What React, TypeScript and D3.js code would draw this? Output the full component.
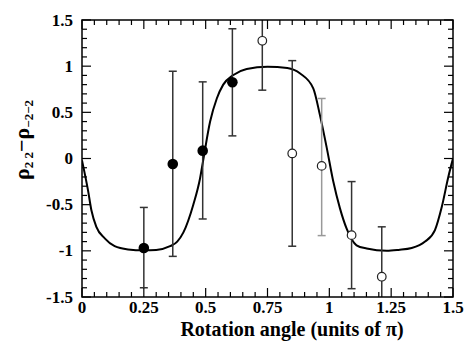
import * as d3 from 'd3';
import { useEffect, useRef } from 'react';

// filled points (measured)
const angleFilled = [0.25, 0.367, 0.488, 0.608];
const valueFilled = [-0.97, -0.06, 0.085, 0.825];
const lowFilled = [-1.4, -1.06, -0.655, 0.245];
const highFilled = [-0.53, 0.945, 0.83, 1.405];

// open points
const angleOpen = [0.729, 0.85, 0.969, 1.09, 1.212];
const valueOpen = [1.275, 0.055, -0.08, -0.83, -1.28];
const lowOpen = [0.74, -0.95, -0.835, -1.41, -1.75];
const highOpen = [1.75, 1.06, 0.65, -0.25, -0.74];
const greyBar = [false, false, true, false, false];

// calculated curve
const curveAngle = [0, 0.024, 0.038, 0.058, 0.092, 0.132, 0.186, 0.25, 0.3, 0.356, 0.385, 0.41, 0.45, 0.477, 0.49, 0.518, 0.545, 0.571, 0.612, 0.666, 0.75, 0.83, 0.882, 0.935, 0.962, 0.99, 1.016, 1.043, 1.07, 1.11, 1.151, 1.232, 1.28, 1.333, 1.387, 1.427, 1.455, 1.481, 1.5];
const curveValue = [-0.02, -0.34, -0.56, -0.74, -0.865, -0.95, -0.985, -0.995, -0.99, -0.95, -0.9, -0.8, -0.5, -0.22, -0.02, 0.4, 0.65, 0.8, 0.905, 0.97, 0.995, 0.98, 0.92, 0.76, 0.47, 0.11, -0.25, -0.54, -0.76, -0.94, -0.975, -1.0, -0.99, -0.97, -0.9, -0.775, -0.52, -0.2, 0.0];

const xTicks = [0, 0.25, 0.5, 0.75, 1, 1.25, 1.5];
const xTickLabels = ['0', '0.25', '0.5', '0.75', '1', '1.25', '1.5'];
const yTicks = [-1.5, -1, -0.5, 0, 0.5, 1, 1.5];
const yTickLabels = ['-1.5', '-1', '-0.5', '0', '0.5', '1', '1.5'];

const W = 472;
const H = 341;

const Chart = () => {
	const svgRef = useRef<SVGSVGElement>(null);

	useEffect(() => {
		const left = 82, right = 453, top = 20, bottom = 297;

		const x = d3.scaleLinear([0, 1.5], [left, right]);
		const y = d3.scaleLinear([-1.5, 1.5], [bottom, top]);

		const svg = d3.select(svgRef.current);
		svg.selectAll('*').remove();

		svg.append('defs').append('clipPath').attr('id', 'plotClip')
			.append('rect').attr('x', left).attr('y', top).attr('width', right - left).attr('height', bottom - top);

		const plot = svg.append('g').attr('clip-path', 'url(#plotClip)');

		// curve
		const line = d3.line<number>()
			.curve(d3.curveMonotoneX)
			.x((i) => x(curveAngle[i]))
			.y((i) => y(curveValue[i]));
		plot.append('path')
			.attr('fill', 'none')
			.attr('stroke', '#000')
			.attr('stroke-width', 2)
			.attr('d', line(d3.range(curveAngle.length)));

		// error bars
		const bars = (ang, lo, hi, grey) => {
			ang.forEach((a, i) => {
				const col = grey && grey[i] ? '#999' : '#333';
				const g = plot.append('g').attr('stroke', col).attr('stroke-width', 1.5);
				g.append('line').attr('x1', x(a)).attr('x2', x(a)).attr('y1', y(lo[i])).attr('y2', y(hi[i]));
				g.append('line').attr('x1', x(a) - 4).attr('x2', x(a) + 4).attr('y1', y(lo[i])).attr('y2', y(lo[i]));
				g.append('line').attr('x1', x(a) - 4).attr('x2', x(a) + 4).attr('y1', y(hi[i])).attr('y2', y(hi[i]));
			});
		};
		bars(angleFilled, lowFilled, highFilled, null);
		bars(angleOpen, lowOpen, highOpen, greyBar);

		plot.selectAll('circle.filled').data(angleFilled).join('circle')
			.attr('class', 'filled')
			.attr('cx', (d) => x(d)).attr('cy', (_, i) => y(valueFilled[i]))
			.attr('r', 5.3).attr('fill', '#000');

		plot.selectAll('circle.open').data(angleOpen).join('circle')
			.attr('class', 'open')
			.attr('cx', (d) => x(d)).attr('cy', (_, i) => y(valueOpen[i]))
			.attr('r', 4.3).attr('fill', '#fff').attr('stroke', '#222').attr('stroke-width', 1.2);

		// frame
		svg.append('rect')
			.attr('x', left).attr('y', top).attr('width', right - left).attr('height', bottom - top)
			.attr('fill', 'none').attr('stroke', '#000').attr('stroke-width', 1.5);

		// ticks, inward, mirrored
		const ax = svg.append('g').attr('stroke', '#000').attr('stroke-width', 1.2);
		d3.range(0, 1.5001, 0.05).forEach((v) => {
			const major = Math.abs(v / 0.25 - Math.round(v / 0.25)) < 1e-6;
			const len = major ? 9 : 5;
			ax.append('line').attr('x1', x(v)).attr('x2', x(v)).attr('y1', bottom).attr('y2', bottom - len);
			ax.append('line').attr('x1', x(v)).attr('x2', x(v)).attr('y1', top).attr('y2', top + len);
		});
		d3.range(-1.5, 1.5001, 0.1).forEach((v) => {
			const major = Math.abs(v / 0.5 - Math.round(v / 0.5)) < 1e-6;
			const len = major ? 9 : 5;
			ax.append('line').attr('y1', y(v)).attr('y2', y(v)).attr('x1', left).attr('x2', left + len);
			ax.append('line').attr('y1', y(v)).attr('y2', y(v)).attr('x1', right).attr('x2', right - len);
		});

		// all text in a serif face
		const txt = svg.append('g')
			.style('font-family', "'Liberation Serif', 'Times New Roman', Times, 'DejaVu Serif', serif")
			.style('font-weight', 'bold');

		// tick labels
		txt.append('g').selectAll('text').data(xTicks).join('text')
			.attr('x', (d) => x(d)).attr('y', 313)
			.attr('text-anchor', 'middle')
			.style('font-size', '17px')
			.text((_, i) => xTickLabels[i]);

		txt.append('g').selectAll('text').data(yTicks).join('text')
			.attr('x', 73).attr('y', (d) => y(d) + 5.5)
			.attr('text-anchor', 'end')
			.style('font-size', '17px')
			.text((_, i) => yTickLabels[i]);

		// axis titles
		txt.append('text')
			.attr('x', 292).attr('y', 336)
			.attr('text-anchor', 'middle')
			.style('font-size', '20px')
			.text('Rotation angle (units of π)');

		const yt = txt.append('text')
			.attr('transform', 'translate(29,140) rotate(-90)')
			.attr('text-anchor', 'middle')
			.style('font-size', '22px');
		yt.append('tspan').text('ρ');
		yt.append('tspan').style('font-size', '13px').attr('dy', 4).text('2 2');
		yt.append('tspan').attr('dy', -4).text('−ρ');
		yt.append('tspan').style('font-size', '13px').attr('dy', 4).text('−2−2');
	}, []);

	return <svg ref={svgRef} width={W} height={H} style={{ position: 'absolute', left: 0, top: 0, background: '#fff' }} />;
};

export default function App() {
	return <Chart />;
}
